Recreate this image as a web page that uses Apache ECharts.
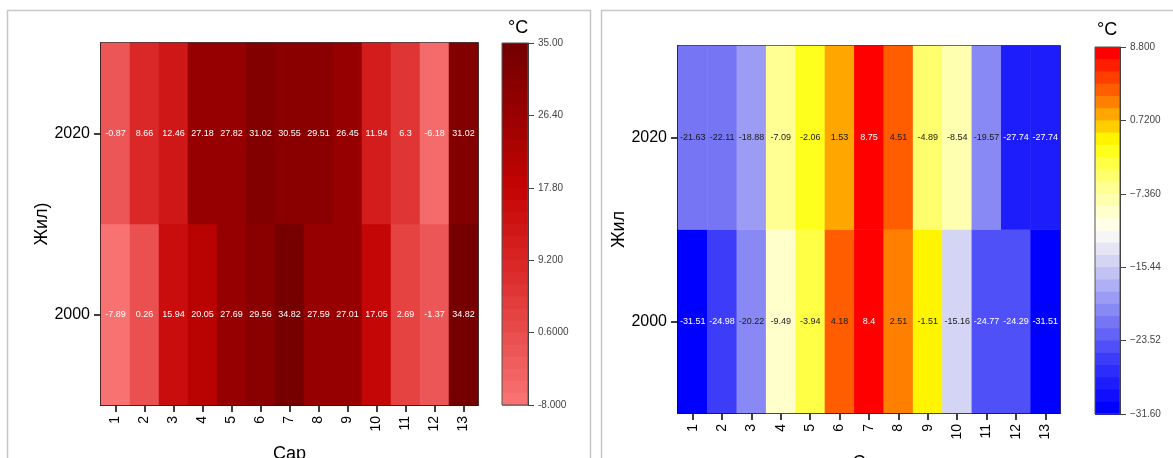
<!DOCTYPE html>
<html>
<head>
<meta charset="utf-8">
<script src="https://cdn.jsdelivr.net/npm/echarts@6/dist/echarts.min.js"></script>
<style>
html,body{margin:0;padding:0;background:#fff;}
#c{width:1173px;height:458px;}
</style>
</head>
<body>
<div id="c"></div>
<script>
// ---- data ----
const months = ['1','2','3','4','5','6','7','8','9','10','11','12','13'];
const years = ['2000','2020'];
const left2000 = [-7.89, 0.26, 15.94, 20.05, 27.69, 29.56, 34.82, 27.59, 27.01, 17.05, 2.69, -1.37, 34.82];
const left2020 = [-0.87, 8.66, 12.46, 27.18, 27.82, 31.02, 30.55, 29.51, 26.45, 11.94, 6.3, -6.18, 31.02];
const right2000 = [-31.51, -24.98, -20.22, -9.49, -3.94, 4.18, 8.4, 2.51, -1.51, -15.16, -24.77, -24.29, -31.51];
const right2020 = [-21.63, -22.11, -18.88, -7.09, -2.06, 1.53, 8.75, 4.51, -4.89, -8.54, -19.57, -27.74, -27.74];
const leftScaleTicks = ['-8.000','0.6000','9.200','17.80','26.40','35.00'];
const rightScaleTicks = ['\u221231.60','\u221223.52','\u221215.44','\u22127.360','0.7200','8.800'];
const leftMin = -8, leftMax = 35;
const rightMin = -31.6, rightMax = 8.8;

const FONT = 'Liberation Sans';
const leftColors = ['#f87272','#e84a4a','#d82424','#c40404','#9c0000','#760000'];
const rightColors = ['#0000ff','#3535fa','#7b7bf5','#c0c0f5','#fffff6','#ffff90','#ffff00','#ff7000','#ff0000'];

function buildData(rowA, rowB, labelColorFn){
  const out = [];
  months.forEach((m,i)=>{
    [rowA[i], rowB[i]].forEach((v,j)=>{
      out.push({value:[i,j,v], label:{color: labelColorFn(v)}});
    });
  });
  return out;
}
const leftData = buildData(left2000, left2020, ()=> '#ffffff');
const rightData = buildData(right2000, right2020, v => (v < -23 || v > 7) ? '#ffffff' : '#1a1a1a');

const mainGrids = [
  {left:101, top:43, width:377, height:362},
  {left:678, top:46, width:382, height:367}
];
const barGrids = [
  {left:502, top:43, width:26, height:362},
  {left:1095, top:47, width:25, height:367}
];
const STEPS = 30;

function mainX(gi, gap){
  return {type:'category', gridIndex:gi, data:months, name:'Сар', nameLocation:'middle', nameGap:gap,
    nameMoveOverlap:false,
    nameTextStyle:{fontFamily:FONT, fontSize:18, color:'#000'},
    axisLine:{show:true, lineStyle:{color:'#000', width:1.5}},
    axisTick:{show:true, alignWithLabel:true, length:7, lineStyle:{color:'#000', width:1.5}},
    axisLabel:{rotate:90, margin:11, fontFamily:FONT, fontSize:14, color:'#000', interval:0},
    splitLine:{show:false}, splitArea:{show:false}};
}
function mainY(gi, name, gap){
  return {type:'category', gridIndex:gi, data:years, name:name, nameLocation:'middle', nameGap:gap, nameRotate:90,
    nameMoveOverlap:false,
    nameTextStyle:{fontFamily:FONT, fontSize:18, color:'#000'},
    axisLine:{show:true, lineStyle:{color:'#000', width:1.5}},
    axisTick:{show:true, alignWithLabel:true, length:7, lineStyle:{color:'#000', width:1.5}},
    axisLabel:{margin:11, fontFamily:FONT, fontSize:16, color:'#000'},
    splitLine:{show:false}, splitArea:{show:false}};
}
function barY(gi, ticks){
  return {type:'category', gridIndex:gi, data:ticks, position:'right', boundaryGap:false, z:12,
    axisLine:{show:true, onZero:false, lineStyle:{color:'#444', width:1}},
    axisTick:{show:true, inside:false, length:6, interval:0, lineStyle:{color:'#444', width:1}},
    axisLabel:{margin:10, interval:0, fontFamily:FONT, fontSize:10, color:'#444'},
    splitLine:{show:false}};
}
function barX(gi){
  return {type:'category', gridIndex:gi, data:[''], show:false};
}
function stepMap(si, min, max, g, colors){
  const h = g.height / STEPS;
  return {type:'piecewise', seriesIndex:si, min:min, max:max, splitNumber:STEPS,
     orient:'vertical', left:g.left, top:g.top, padding:0,
     itemWidth:g.width, itemHeight:h + 1, itemGap:-1, itemSymbol:'rect',
     showLabel:false, hoverLink:false, selectedMode:false,
     inRange:{color:colors}};
}
const gridBase = {show:true, backgroundColor:'transparent', outerBoundsMode:'none', containLabel:false};

const option = {
  backgroundColor:'#ffffff',
  animation:false,
  grid:[
    Object.assign({}, gridBase, {borderColor:'#000', borderWidth:1.5}, mainGrids[0]),
    Object.assign({}, gridBase, {borderColor:'#000', borderWidth:1.5}, mainGrids[1]),
    Object.assign({}, gridBase, {borderColor:'#555', borderWidth:1, z:10}, barGrids[0]),
    Object.assign({}, gridBase, {borderColor:'#555', borderWidth:1, z:10}, barGrids[1])
  ],
  xAxis:[mainX(0, 40), mainX(1, 41), barX(2), barX(3)],
  yAxis:[mainY(0, 'Жил)', 50), mainY(1, 'Жил', 50), barY(2, leftScaleTicks), barY(3, rightScaleTicks)],
  visualMap:[
    stepMap(0, leftMin, leftMax, barGrids[0], leftColors),
    stepMap(1, rightMin, rightMax, barGrids[1], rightColors)
  ],
  series:[
    {type:'heatmap', xAxisIndex:0, yAxisIndex:0, data:leftData,
     label:{show:true, fontFamily:FONT, fontSize:9, formatter:p=>String(p.value[2])},
     emphasis:{disabled:true}},
    {type:'heatmap', xAxisIndex:1, yAxisIndex:1, data:rightData,
     label:{show:true, fontFamily:FONT, fontSize:9, formatter:p=>String(p.value[2])},
     emphasis:{disabled:true}}
  ],
  graphic:[
    {type:'rect', shape:{x:7.5, y:10.5, width:583, height:470}, style:{fill:'none', stroke:'#c8c8c8', lineWidth:1.5}, silent:true, z:-1},
    {type:'rect', shape:{x:601.5, y:10.5, width:600, height:470}, style:{fill:'none', stroke:'#c8c8c8', lineWidth:1.5}, silent:true, z:-1},
    {type:'text', left:508, top:19, style:{text:'°C', font:'18px "Liberation Sans"', fill:'#000'}},
    {type:'text', left:1097, top:21, style:{text:'°C', font:'18px "Liberation Sans"', fill:'#000'}}
  ]
};
const chart = echarts.init(document.getElementById('c'), null, {renderer:'canvas'});
chart.setOption(option);
</script>
</body>
</html>
